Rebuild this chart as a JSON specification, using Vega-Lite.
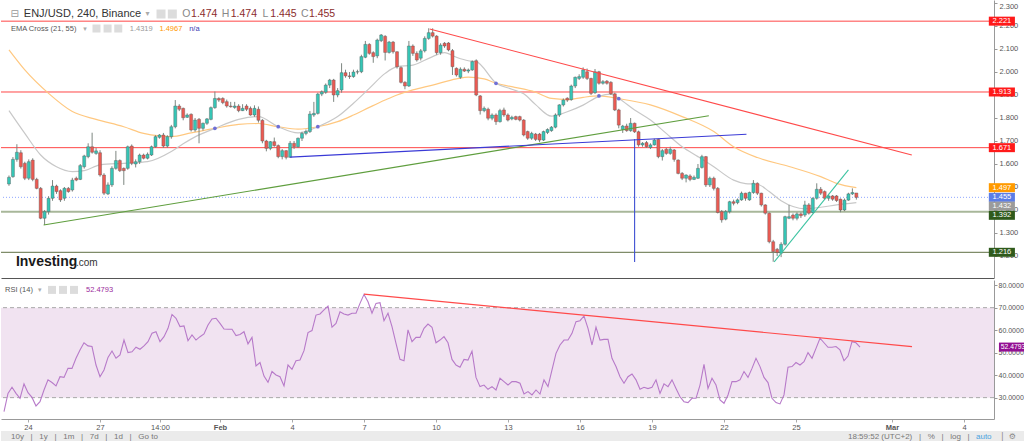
{
"$schema": "https://vega.github.io/schema/vega-lite/v6.json",
"padding": 0,
"background": "white",
"spacing": 2,
"bounds": "flush",
"config": {"view": {"stroke": null}, "font": "Liberation Sans", "axis": {"labelOverlap": false, "labelSeparation": 0, "labelBound": false}},
"datasets": {
"candles": [
{"i":0,"o":1.513,"h":1.55,"l":1.505,"c":1.542},{"i":1,"o":1.545,"h":1.63,"l":1.54,"c":1.62},{"i":2,"o":1.62,"h":1.686,"l":1.61,"c":1.651},{"i":3,"o":1.649,"h":1.66,"l":1.58,"c":1.588},{"i":4,"o":1.603,"h":1.61,"l":1.53,"c":1.538},{"i":5,"o":1.538,"h":1.62,"l":1.53,"c":1.61},{"i":6,"o":1.617,"h":1.625,"l":1.525,"c":1.533},{"i":7,"o":1.533,"h":1.54,"l":1.49,"c":1.494},{"i":8,"o":1.494,"h":1.5,"l":1.36,"c":1.364},{"i":9,"o":1.364,"h":1.4,"l":1.335,"c":1.393},
{"i":10,"o":1.393,"h":1.46,"l":1.38,"c":1.451},{"i":11,"o":1.451,"h":1.53,"l":1.44,"c":1.504},{"i":12,"o":1.504,"h":1.51,"l":1.47,"c":1.48},{"i":13,"o":1.484,"h":1.49,"l":1.435,"c":1.444},{"i":14,"o":1.451,"h":1.5,"l":1.44,"c":1.494},{"i":15,"o":1.494,"h":1.5,"l":1.475,"c":1.48},{"i":16,"o":1.487,"h":1.54,"l":1.48,"c":1.53},{"i":17,"o":1.538,"h":1.545,"l":1.525,"c":1.53},{"i":18,"o":1.533,"h":1.6,"l":1.53,"c":1.593},{"i":19,"o":1.588,"h":1.64,"l":1.58,"c":1.635},
{"i":20,"o":1.632,"h":1.69,"l":1.625,"c":1.675},{"i":21,"o":1.675,"h":1.736,"l":1.645,"c":1.651},{"i":22,"o":1.646,"h":1.67,"l":1.64,"c":1.657},{"i":23,"o":1.649,"h":1.66,"l":1.545,"c":1.552},{"i":24,"o":1.552,"h":1.56,"l":1.465,"c":1.473},{"i":25,"o":1.47,"h":1.52,"l":1.465,"c":1.509},{"i":26,"o":1.509,"h":1.59,"l":1.5,"c":1.581},{"i":27,"o":1.581,"h":1.657,"l":1.575,"c":1.615},{"i":28,"o":1.615,"h":1.62,"l":1.565,"c":1.571},{"i":29,"o":1.581,"h":1.585,"l":1.509,"c":1.571},
{"i":30,"o":1.581,"h":1.68,"l":1.575,"c":1.675},{"i":31,"o":1.678,"h":1.685,"l":1.595,"c":1.603},{"i":32,"o":1.6,"h":1.62,"l":1.585,"c":1.61},{"i":33,"o":1.61,"h":1.645,"l":1.6,"c":1.639},{"i":34,"o":1.639,"h":1.645,"l":1.62,"c":1.625},{"i":35,"o":1.625,"h":1.65,"l":1.62,"c":1.642},{"i":36,"o":1.639,"h":1.68,"l":1.635,"c":1.675},{"i":37,"o":1.675,"h":1.725,"l":1.67,"c":1.719},{"i":38,"o":1.716,"h":1.73,"l":1.71,"c":1.726},{"i":39,"o":1.726,"h":1.735,"l":1.67,"c":1.678},
{"i":40,"o":1.678,"h":1.725,"l":1.67,"c":1.719},{"i":41,"o":1.719,"h":1.77,"l":1.71,"c":1.762},{"i":42,"o":1.762,"h":1.878,"l":1.755,"c":1.852},{"i":43,"o":1.852,"h":1.86,"l":1.83,"c":1.838},{"i":44,"o":1.842,"h":1.845,"l":1.79,"c":1.801},{"i":45,"o":1.803,"h":1.82,"l":1.8,"c":1.813},{"i":46,"o":1.816,"h":1.82,"l":1.741,"c":1.748},{"i":47,"o":1.748,"h":1.8,"l":1.74,"c":1.791},{"i":48,"o":1.794,"h":1.8,"l":1.69,"c":1.755},{"i":49,"o":1.755,"h":1.78,"l":1.745,"c":1.777},
{"i":50,"o":1.777,"h":1.8,"l":1.77,"c":1.796},{"i":51,"o":1.794,"h":1.85,"l":1.79,"c":1.845},{"i":52,"o":1.845,"h":1.915,"l":1.84,"c":1.885},{"i":53,"o":1.885,"h":1.89,"l":1.87,"c":1.878},{"i":54,"o":1.885,"h":1.89,"l":1.86,"c":1.867},{"i":55,"o":1.871,"h":1.88,"l":1.845,"c":1.852},{"i":56,"o":1.852,"h":1.87,"l":1.845,"c":1.849},{"i":57,"o":1.846,"h":1.87,"l":1.84,"c":1.852},{"i":58,"o":1.852,"h":1.86,"l":1.825,"c":1.832},{"i":59,"o":1.832,"h":1.86,"l":1.83,"c":1.842},
{"i":60,"o":1.852,"h":1.86,"l":1.83,"c":1.838},{"i":61,"o":1.842,"h":1.85,"l":1.81,"c":1.813},{"i":62,"o":1.813,"h":1.855,"l":1.805,"c":1.842},{"i":63,"o":1.838,"h":1.85,"l":1.78,"c":1.79},{"i":64,"o":1.79,"h":1.795,"l":1.69,"c":1.7},{"i":65,"o":1.7,"h":1.705,"l":1.655,"c":1.668},{"i":66,"o":1.668,"h":1.7,"l":1.66,"c":1.697},{"i":67,"o":1.697,"h":1.715,"l":1.675,"c":1.68},{"i":68,"o":1.68,"h":1.685,"l":1.625,"c":1.632},{"i":69,"o":1.632,"h":1.665,"l":1.62,"c":1.658},
{"i":70,"o":1.658,"h":1.66,"l":1.62,"c":1.629},{"i":71,"o":1.629,"h":1.7,"l":1.628,"c":1.69},{"i":72,"o":1.69,"h":1.7,"l":1.665,"c":1.675},{"i":73,"o":1.675,"h":1.715,"l":1.67,"c":1.712},{"i":74,"o":1.712,"h":1.74,"l":1.7,"c":1.733},{"i":75,"o":1.733,"h":1.75,"l":1.725,"c":1.741},{"i":76,"o":1.741,"h":1.83,"l":1.735,"c":1.817},{"i":77,"o":1.813,"h":1.87,"l":1.805,"c":1.82},{"i":78,"o":1.82,"h":1.91,"l":1.815,"c":1.904},{"i":79,"o":1.904,"h":1.92,"l":1.895,"c":1.914},
{"i":80,"o":1.912,"h":1.95,"l":1.905,"c":1.943},{"i":81,"o":1.943,"h":1.97,"l":1.93,"c":1.965},{"i":82,"o":1.965,"h":1.97,"l":1.87,"c":1.9},{"i":83,"o":1.9,"h":1.93,"l":1.89,"c":1.919},{"i":84,"o":1.922,"h":2.038,"l":1.91,"c":1.997},{"i":85,"o":1.997,"h":2.01,"l":1.975,"c":1.983},{"i":86,"o":1.983,"h":2.0,"l":1.97,"c":1.98},{"i":87,"o":1.98,"h":2.01,"l":1.975,"c":2.0},{"i":88,"o":2.0,"h":2.01,"l":1.99,"c":2.001},{"i":89,"o":2.001,"h":2.075,"l":1.995,"c":2.067},
{"i":90,"o":2.064,"h":2.135,"l":2.06,"c":2.12},{"i":91,"o":2.12,"h":2.125,"l":2.075,"c":2.081},{"i":92,"o":2.084,"h":2.09,"l":2.04,"c":2.067},{"i":93,"o":2.07,"h":2.145,"l":2.06,"c":2.139},{"i":94,"o":2.136,"h":2.165,"l":2.13,"c":2.161},{"i":95,"o":2.155,"h":2.16,"l":2.05,"c":2.085},{"i":96,"o":2.085,"h":2.135,"l":2.08,"c":2.13},{"i":97,"o":2.13,"h":2.135,"l":2.08,"c":2.088},{"i":98,"o":2.088,"h":2.09,"l":2.015,"c":2.023},{"i":99,"o":2.019,"h":2.025,"l":1.95,"c":1.955},
{"i":100,"o":1.955,"h":1.96,"l":1.925,"c":1.939},{"i":101,"o":1.939,"h":2.135,"l":1.935,"c":2.113},{"i":102,"o":2.113,"h":2.12,"l":2.07,"c":2.081},{"i":103,"o":2.081,"h":2.09,"l":2.045,"c":2.052},{"i":104,"o":2.06,"h":2.1,"l":2.05,"c":2.092},{"i":105,"o":2.092,"h":2.155,"l":2.085,"c":2.146},{"i":106,"o":2.146,"h":2.19,"l":2.14,"c":2.171},{"i":107,"o":2.171,"h":2.19,"l":2.15,"c":2.156},{"i":108,"o":2.156,"h":2.16,"l":2.075,"c":2.084},{"i":109,"o":2.084,"h":2.125,"l":2.075,"c":2.117},
{"i":110,"o":2.125,"h":2.13,"l":2.105,"c":2.113},{"i":111,"o":2.126,"h":2.13,"l":2.09,"c":2.096},{"i":112,"o":2.093,"h":2.1,"l":1.987,"c":2.023},{"i":113,"o":2.016,"h":2.02,"l":1.98,"c":1.987},{"i":114,"o":1.977,"h":2.02,"l":1.97,"c":2.012},{"i":115,"o":2.012,"h":2.02,"l":2.0,"c":2.004},{"i":116,"o":2.004,"h":2.015,"l":1.995,"c":2.009},{"i":117,"o":2.009,"h":2.05,"l":2.005,"c":2.045},{"i":118,"o":2.049,"h":2.055,"l":1.895,"c":1.9},{"i":119,"o":1.896,"h":1.9,"l":1.815,"c":1.832},
{"i":120,"o":1.832,"h":1.85,"l":1.825,"c":1.842},{"i":121,"o":1.838,"h":1.845,"l":1.79,"c":1.799},{"i":122,"o":1.799,"h":1.82,"l":1.79,"c":1.813},{"i":123,"o":1.813,"h":1.82,"l":1.77,"c":1.784},{"i":124,"o":1.784,"h":1.84,"l":1.78,"c":1.832},{"i":125,"o":1.835,"h":1.845,"l":1.805,"c":1.813},{"i":126,"o":1.813,"h":1.82,"l":1.785,"c":1.791},{"i":127,"o":1.796,"h":1.81,"l":1.79,"c":1.803},{"i":128,"o":1.806,"h":1.81,"l":1.79,"c":1.794},{"i":129,"o":1.806,"h":1.81,"l":1.785,"c":1.791},
{"i":130,"o":1.791,"h":1.795,"l":1.72,"c":1.726},{"i":131,"o":1.741,"h":1.745,"l":1.705,"c":1.712},{"i":132,"o":1.712,"h":1.74,"l":1.705,"c":1.733},{"i":133,"o":1.73,"h":1.735,"l":1.7,"c":1.707},{"i":134,"o":1.73,"h":1.735,"l":1.695,"c":1.704},{"i":135,"o":1.704,"h":1.745,"l":1.7,"c":1.741},{"i":136,"o":1.737,"h":1.755,"l":1.73,"c":1.75},{"i":137,"o":1.745,"h":1.765,"l":1.74,"c":1.76},{"i":138,"o":1.76,"h":1.82,"l":1.755,"c":1.813},{"i":139,"o":1.813,"h":1.86,"l":1.805,"c":1.857},
{"i":140,"o":1.857,"h":1.885,"l":1.85,"c":1.878},{"i":141,"o":1.886,"h":1.89,"l":1.87,"c":1.878},{"i":142,"o":1.88,"h":1.945,"l":1.875,"c":1.939},{"i":143,"o":1.939,"h":1.98,"l":1.93,"c":1.977},{"i":144,"o":1.972,"h":1.99,"l":1.965,"c":1.98},{"i":145,"o":1.977,"h":2.02,"l":1.97,"c":2.009},{"i":146,"o":2.001,"h":2.015,"l":1.965,"c":1.972},{"i":147,"o":1.972,"h":1.975,"l":1.9,"c":1.907},{"i":148,"o":1.91,"h":2.013,"l":1.905,"c":2.001},{"i":149,"o":2.001,"h":2.005,"l":1.945,"c":1.951},
{"i":150,"o":1.951,"h":1.965,"l":1.945,"c":1.958},{"i":151,"o":1.96,"h":1.965,"l":1.945,"c":1.951},{"i":152,"o":1.955,"h":1.96,"l":1.9,"c":1.905},{"i":153,"o":1.905,"h":1.91,"l":1.83,"c":1.835},{"i":154,"o":1.835,"h":1.84,"l":1.755,"c":1.769},{"i":155,"o":1.75,"h":1.77,"l":1.735,"c":1.765},{"i":156,"o":1.765,"h":1.775,"l":1.74,"c":1.745},{"i":157,"o":1.745,"h":1.8,"l":1.74,"c":1.777},{"i":158,"o":1.777,"h":1.78,"l":1.735,"c":1.74},{"i":159,"o":1.74,"h":1.745,"l":1.675,"c":1.683},
{"i":160,"o":1.683,"h":1.695,"l":1.675,"c":1.69},{"i":161,"o":1.693,"h":1.7,"l":1.67,"c":1.675},{"i":162,"o":1.672,"h":1.69,"l":1.665,"c":1.683},{"i":163,"o":1.683,"h":1.71,"l":1.68,"c":1.704},{"i":164,"o":1.707,"h":1.71,"l":1.625,"c":1.632},{"i":165,"o":1.632,"h":1.665,"l":1.615,"c":1.658},{"i":166,"o":1.664,"h":1.67,"l":1.64,"c":1.646},{"i":167,"o":1.646,"h":1.675,"l":1.64,"c":1.664},{"i":168,"o":1.661,"h":1.665,"l":1.61,"c":1.62},{"i":169,"o":1.617,"h":1.62,"l":1.555,"c":1.559},
{"i":170,"o":1.559,"h":1.565,"l":1.53,"c":1.538},{"i":171,"o":1.538,"h":1.555,"l":1.52,"c":1.552},{"i":172,"o":1.548,"h":1.555,"l":1.525,"c":1.533},{"i":173,"o":1.533,"h":1.55,"l":1.53,"c":1.542},{"i":174,"o":1.538,"h":1.6,"l":1.535,"c":1.581},{"i":175,"o":1.585,"h":1.64,"l":1.58,"c":1.632},{"i":176,"o":1.632,"h":1.635,"l":1.5,"c":1.509},{"i":177,"o":1.509,"h":1.545,"l":1.5,"c":1.538},{"i":178,"o":1.538,"h":1.545,"l":1.485,"c":1.494},{"i":179,"o":1.494,"h":1.5,"l":1.385,"c":1.389},
{"i":180,"o":1.393,"h":1.4,"l":1.345,"c":1.357},{"i":181,"o":1.36,"h":1.4,"l":1.355,"c":1.393},{"i":182,"o":1.393,"h":1.44,"l":1.385,"c":1.436},{"i":183,"o":1.436,"h":1.445,"l":1.42,"c":1.429},{"i":184,"o":1.432,"h":1.45,"l":1.425,"c":1.444},{"i":185,"o":1.444,"h":1.48,"l":1.44,"c":1.473},{"i":186,"o":1.473,"h":1.475,"l":1.44,"c":1.451},{"i":187,"o":1.444,"h":1.48,"l":1.44,"c":1.476},{"i":188,"o":1.476,"h":1.53,"l":1.47,"c":1.516},{"i":189,"o":1.516,"h":1.52,"l":1.465,"c":1.473},
{"i":190,"o":1.473,"h":1.475,"l":1.415,"c":1.422},{"i":191,"o":1.422,"h":1.425,"l":1.38,"c":1.386},{"i":192,"o":1.386,"h":1.39,"l":1.255,"c":1.262},{"i":193,"o":1.262,"h":1.27,"l":1.175,"c":1.219},{"i":194,"o":1.229,"h":1.235,"l":1.2,"c":1.215},{"i":195,"o":1.212,"h":1.26,"l":1.195,"c":1.251},{"i":196,"o":1.251,"h":1.375,"l":1.245,"c":1.371},{"i":197,"o":1.364,"h":1.422,"l":1.36,"c":1.371},{"i":198,"o":1.378,"h":1.385,"l":1.355,"c":1.364},{"i":199,"o":1.364,"h":1.39,"l":1.355,"c":1.383},
{"i":200,"o":1.383,"h":1.39,"l":1.365,"c":1.375},{"i":201,"o":1.378,"h":1.44,"l":1.37,"c":1.422},{"i":202,"o":1.422,"h":1.43,"l":1.38,"c":1.386},{"i":203,"o":1.389,"h":1.455,"l":1.385,"c":1.451},{"i":204,"o":1.451,"h":1.516,"l":1.445,"c":1.49},{"i":205,"o":1.49,"h":1.5,"l":1.465,"c":1.473},{"i":206,"o":1.48,"h":1.485,"l":1.445,"c":1.451},{"i":207,"o":1.451,"h":1.47,"l":1.44,"c":1.461},{"i":208,"o":1.461,"h":1.465,"l":1.44,"c":1.447},{"i":209,"o":1.461,"h":1.465,"l":1.435,"c":1.441},
{"i":210,"o":1.447,"h":1.45,"l":1.39,"c":1.4},{"i":211,"o":1.4,"h":1.45,"l":1.395,"c":1.443},{"i":212,"o":1.443,"h":1.475,"l":1.44,"c":1.47},{"i":213,"o":1.47,"h":1.494,"l":1.465,"c":1.476},{"i":214,"o":1.474,"h":1.474,"l":1.445,"c":1.455}
],
"ema21": [
{"i":0,"v":1.832},{"i":4,"v":1.733},{"i":8,"v":1.639},{"i":12,"v":1.588},{"i":16,"v":1.567},{"i":19,"v":1.571},{"i":23,"v":1.596},{"i":29,"v":1.603},{"i":35,"v":1.61},{"i":41,"v":1.654},{"i":44,"v":1.688},{"i":47,"v":1.718},{"i":52,"v":1.755},{"i":58,"v":1.794},{"i":63,"v":1.806},{"i":68,"v":1.762},{"i":73,"v":1.735},{"i":78,"v":1.762},{"i":83,"v":1.806},{"i":87,"v":1.864},{"i":91,"v":1.929},{"i":95,"v":1.994},{"i":98,"v":2.023},{"i":102,"v":2.03},{"i":107,"v":2.067},{"i":110,"v":2.084},{"i":113,"v":2.064},{"i":116,"v":2.049},{"i":118,"v":2.045},{"i":123,"v":1.952},{"i":127,"v":1.925},{"i":130,"v":1.905},{"i":133,"v":1.858},{"i":137,"v":1.808},{"i":141,"v":1.827},{"i":145,"v":1.856},{"i":149,"v":1.894},{"i":152,"v":1.904},{"i":154,"v":1.885},{"i":158,"v":1.835},{"i":162,"v":1.791},{"i":166,"v":1.733},{"i":170,"v":1.675},{"i":174,"v":1.632},{"i":178,"v":1.588},{"i":183,"v":1.53},{"i":186,"v":1.515},{"i":189,"v":1.512},{"i":192,"v":1.48},{"i":195,"v":1.44},{"i":198,"v":1.415},{"i":201,"v":1.405},{"i":205,"v":1.412},{"i":209,"v":1.422},{"i":214,"v":1.432}
],
"ema55": [
{"i":0,"v":2.096},{"i":4,"v":2.009},{"i":10,"v":1.907},{"i":16,"v":1.828},{"i":22,"v":1.794},{"i":29,"v":1.762},{"i":34,"v":1.733},{"i":38,"v":1.722},{"i":41,"v":1.719},{"i":46,"v":1.735},{"i":52,"v":1.755},{"i":58,"v":1.772},{"i":63,"v":1.776},{"i":68,"v":1.762},{"i":73,"v":1.752},{"i":78,"v":1.762},{"i":83,"v":1.784},{"i":87,"v":1.813},{"i":91,"v":1.846},{"i":95,"v":1.878},{"i":98,"v":1.9},{"i":102,"v":1.922},{"i":107,"v":1.943},{"i":113,"v":1.97},{"i":116,"v":1.978},{"i":120,"v":1.97},{"i":123,"v":1.951},{"i":127,"v":1.936},{"i":133,"v":1.912},{"i":137,"v":1.885},{"i":141,"v":1.88},{"i":145,"v":1.89},{"i":149,"v":1.896},{"i":154,"v":1.884},{"i":162,"v":1.857},{"i":170,"v":1.806},{"i":178,"v":1.741},{"i":183,"v":1.675},{"i":189,"v":1.628},{"i":197,"v":1.589},{"i":205,"v":1.545},{"i":209,"v":1.516},{"i":214,"v":1.497}
],
"cross": [{"i":52,"v":1.755},{"i":68,"v":1.762},{"i":78,"v":1.762},{"i":123,"v":1.951},{"i":149,"v":1.896},{"i":154,"v":1.884}],
"trend": [
{"id":"r","i":106.25,"p":2.187},{"id":"r","i":228,"p":1.639},
{"id":"g","i":8.75,"p":1.335},{"id":"g","i":176.75,"p":1.81},
{"id":"b","i":71,"p":1.63},{"id":"b","i":186.25,"p":1.729},
{"id":"v","i":158,"p":1.709},{"id":"v","i":158,"p":1.174},
{"id":"t","i":193.25,"p":1.174},{"id":"t","i":212,"p":1.574}
],
"tags": [
{"p":2.221,"k":"res"},{"p":1.913,"k":"res"},{"p":1.671,"k":"res"},{"p":1.497,"k":"e55"},{"p":1.455,"k":"last"},{"p":1.216,"k":"sup"}
],
"tagsLow": [
{"p":1.432,"k":"e21"},{"p":1.392,"k":"sup"}
],
"rsi": [
{"i":0,"r":23.8},{"i":1,"r":31.9},{"i":2,"r":34.6},{"i":3,"r":31.9},{"i":4,"r":29.7},{"i":5,"r":36.1},{"i":6,"r":32.2},{"i":7,"r":30.1},{"i":8,"r":26.3},{"i":9,"r":28.2},
{"i":10,"r":33.4},{"i":11,"r":37.9},{"i":12,"r":36.7},{"i":13,"r":35.2},{"i":14,"r":39.3},{"i":15,"r":39.0},{"i":16,"r":43.0},{"i":17,"r":43.0},{"i":18,"r":47.5},{"i":19,"r":51.2},
{"i":20,"r":54.4},{"i":21,"r":53.0},{"i":22,"r":52.7},{"i":23,"r":44.5},{"i":24,"r":39.3},{"i":25,"r":42.3},{"i":26,"r":47.9},{"i":27,"r":50.7},{"i":28,"r":47.5},{"i":29,"r":49.0},
{"i":30,"r":55.6},{"i":31,"r":50.0},{"i":32,"r":50.4},{"i":33,"r":52.4},{"i":34,"r":51.5},{"i":35,"r":53.0},{"i":36,"r":54.9},{"i":37,"r":58.6},{"i":38,"r":59.3},{"i":39,"r":54.9},
{"i":40,"r":57.1},{"i":41,"r":60.8},{"i":42,"r":67.0},{"i":43,"r":65.3},{"i":44,"r":61.6},{"i":45,"r":61.9},{"i":46,"r":55.3},{"i":47,"r":57.9},{"i":48,"r":55.6},{"i":49,"r":57.1},
{"i":50,"r":58.3},{"i":51,"r":62.3},{"i":52,"r":65.0},{"i":53,"r":65.3},{"i":54,"r":63.0},{"i":55,"r":60.5},{"i":56,"r":60.4},{"i":57,"r":60.4},{"i":58,"r":57.6},{"i":59,"r":58.1},
{"i":60,"r":59.3},{"i":61,"r":53.9},{"i":62,"r":56.8},{"i":63,"r":44.1},{"i":64,"r":45.6},{"i":65,"r":39.6},{"i":66,"r":36.8},{"i":67,"r":41.6},{"i":68,"r":40.1},{"i":69,"r":39.3},
{"i":70,"r":35.2},{"i":71,"r":44.5},{"i":72,"r":42.6},{"i":73,"r":46.4},{"i":74,"r":46.7},{"i":75,"r":50.9},{"i":76,"r":58.9},{"i":77,"r":59.8},{"i":78,"r":66.7},{"i":79,"r":67.2},
{"i":80,"r":69.0},{"i":81,"r":70.7},{"i":82,"r":61.3},{"i":83,"r":63.0},{"i":84,"r":68.2},{"i":85,"r":67.2},{"i":86,"r":66.7},{"i":87,"r":67.5},{"i":88,"r":67.5},{"i":89,"r":71.9},
{"i":90,"r":75.9},{"i":91,"r":72.6},{"i":92,"r":67.5},{"i":93,"r":71.9},{"i":94,"r":72.2},{"i":95,"r":64.2},{"i":96,"r":67.5},{"i":97,"r":61.6},{"i":98,"r":54.1},{"i":99,"r":47.0},
{"i":100,"r":46.4},{"i":101,"r":60.1},{"i":102,"r":54.9},{"i":103,"r":56.8},{"i":104,"r":56.8},{"i":105,"r":60.8},{"i":106,"r":62.7},{"i":107,"r":61.3},{"i":108,"r":54.4},{"i":109,"r":55.6},
{"i":110,"r":57.1},{"i":111,"r":54.4},{"i":112,"r":47.0},{"i":113,"r":44.5},{"i":114,"r":43.5},{"i":115,"r":47.0},{"i":116,"r":46.7},{"i":117,"r":50.7},{"i":118,"r":39.0},{"i":119,"r":34.9},
{"i":120,"r":35.6},{"i":121,"r":33.7},{"i":122,"r":34.9},{"i":123,"r":33.4},{"i":124,"r":38.6},{"i":125,"r":37.1},{"i":126,"r":35.6},{"i":127,"r":37.1},{"i":128,"r":37.1},{"i":129,"r":36.4},
{"i":130,"r":31.6},{"i":131,"r":32.7},{"i":132,"r":31.2},{"i":133,"r":33.4},{"i":134,"r":31.6},{"i":135,"r":37.9},{"i":136,"r":34.9},{"i":137,"r":42.3},{"i":138,"r":49.7},{"i":139,"r":53.4},
{"i":140,"r":55.6},{"i":141,"r":55.6},{"i":142,"r":58.6},{"i":143,"r":63.8},{"i":144,"r":64.2},{"i":145,"r":66.3},{"i":146,"r":60.8},{"i":147,"r":53.4},{"i":148,"r":61.3},{"i":149,"r":55.6},
{"i":150,"r":55.9},{"i":151,"r":55.9},{"i":152,"r":47.5},{"i":153,"r":43.8},{"i":154,"r":39.3},{"i":155,"r":36.4},{"i":156,"r":39.3},{"i":157,"r":40.5},{"i":158,"r":37.9},{"i":159,"r":33.7},
{"i":160,"r":34.6},{"i":161,"r":34.0},{"i":162,"r":34.6},{"i":163,"r":37.9},{"i":164,"r":31.9},{"i":165,"r":36.1},{"i":166,"r":34.9},{"i":167,"r":37.9},{"i":168,"r":34.1},{"i":169,"r":30.4},
{"i":170,"r":28.2},{"i":171,"r":27.8},{"i":172,"r":29.7},{"i":173,"r":29.7},{"i":174,"r":35.6},{"i":175,"r":44.8},{"i":176,"r":34.1},{"i":177,"r":38.6},{"i":178,"r":35.6},{"i":179,"r":29.0},
{"i":180,"r":27.5},{"i":181,"r":31.2},{"i":182,"r":37.1},{"i":183,"r":37.1},{"i":184,"r":37.9},{"i":185,"r":41.6},{"i":186,"r":39.0},{"i":187,"r":43.0},{"i":188,"r":47.5},{"i":189,"r":43.8},
{"i":190,"r":39.0},{"i":191,"r":36.7},{"i":192,"r":29.7},{"i":193,"r":27.8},{"i":194,"r":27.2},{"i":195,"r":31.2},{"i":196,"r":43.5},{"i":197,"r":43.8},{"i":198,"r":45.6},{"i":199,"r":44.5},
{"i":200,"r":46.0},{"i":201,"r":50.0},{"i":202,"r":47.5},{"i":203,"r":51.9},{"i":204,"r":56.4},{"i":205,"r":54.4},{"i":206,"r":52.4},{"i":207,"r":52.4},{"i":208,"r":52.7},{"i":209,"r":51.2},
{"i":210,"r":46.4},{"i":211,"r":48.5},{"i":212,"r":54.9},{"i":213,"r":54.4},{"i":214,"r":52.48}
],
"rsiTrend": [{"i":90,"r":76.0},{"i":227,"r":52.7}]
},
"vconcat": [
{
"width": 993, "height": 278,
"layer": [
{"data": {"values": [{"p":2.221},{"p":1.913},{"p":1.671}]}, "mark": {"type":"rule","color":"#ff4646","strokeWidth":1},
 "encoding": {"y": {"field":"p","type":"quantitative","scale":{"domain":[1.1043,2.313],"nice":false,"zero":false},
  "axis":{"orient":"right","values":[1.2,1.3,1.4,1.5,1.6,1.7,1.8,1.9,2.0,2.1,2.2,2.3],"tickCount":30,"format":".3f","title":null,"grid":false,"labelOverlap":false,"labelFontSize":7.5,"labelColor":"#555","tickSize":3,"tickColor":"#999","domainColor":"#999","labelPadding":2,"labelFlush":4}}}},
{"data": {"values": [{}]}, "mark": {"type":"rule","color":"#8fa6ff","strokeDash":[1,2],"strokeWidth":1}, "encoding": {"y": {"datum":1.455}}},
{"data": {"values": [{}]}, "mark": {"type":"rule","color":"#a8b79a","strokeWidth":2}, "encoding": {"y": {"datum":1.392}}},
{"data": {"values": [{}]}, "mark": {"type":"rule","color":"#5f7044","strokeWidth":1}, "encoding": {"y": {"datum":1.216}}},
{"data": {"name":"ema55"}, "mark": {"type":"line","color":"#ffc880","strokeWidth":1.2,"interpolate":"monotone"},
 "encoding": {"x": {"field":"i","type":"quantitative"}, "y": {"field":"v","type":"quantitative"}}},
{"data": {"name":"ema21"}, "mark": {"type":"line","color":"#c8c8c8","strokeWidth":1.2,"interpolate":"monotone"},
 "encoding": {"x": {"field":"i","type":"quantitative"}, "y": {"field":"v","type":"quantitative"}}},
{"data": {"name":"candles"}, "mark": {"type":"rule","color":"#7d8680","strokeWidth":1},
 "encoding": {"x": {"field":"i","type":"quantitative","scale":{"domain":[-0.75,247.5],"nice":false,"zero":false},
   "axis":{"orient":"bottom","labels":false,"ticks":false,"domain":true,"domainColor":"#555","title":null,"grid":false}},
  "y": {"field":"l","type":"quantitative"}, "y2": {"field":"h"}}},
{"data": {"name":"candles"}, "mark": {"type":"bar","size":3,"stroke":"#555","strokeWidth":0.4},
 "encoding": {"x": {"field":"i","type":"quantitative"}, "y": {"field":"o","type":"quantitative"}, "y2": {"field":"c"},
  "fill": {"condition": {"test":"datum.c >= datum.o","value":"#35c6b6"},"value":"#ec5a52"}}},
{"data": {"name":"cross"}, "mark": {"type":"point","shape":"circle","filled":true,"size":14,"color":"#6f6fd6","opacity":1},
 "encoding": {"x": {"field":"i","type":"quantitative"}, "y": {"field":"v","type":"quantitative"}}},
{"data": {"name":"trend"}, "mark": {"type":"line","strokeWidth":1.1},
 "encoding": {"x": {"field":"i","type":"quantitative"}, "y": {"field":"p","type":"quantitative"},
  "color": {"field":"id","type":"nominal","scale":{"domain":["r","g","b","v","t"],"range":["#ff4a4a","#5f9e3e","#3a3ad6","#3e4fd2","#3dc4a2"]},"legend":null}}},
{"data": {"name":"tags"}, "mark": {"type":"point","shape":"M-1.45,-0.5L1.45,-0.5L1.45,0.5L-1.45,0.5Z","size":324,"filled":true,"opacity":1,"strokeWidth":0},
 "encoding": {"x": {"datum":250.75}, "y": {"field":"p","type":"quantitative"},
  "fill": {"field":"k","type":"nominal","scale":{"domain":["res","e55","last","e21","sup"],"range":["#ff1a1a","#ff9a00","#5b7de6","#9b9b9b","#2f5a1c"]},"legend":null}}},
{"data": {"name":"tags"}, "mark": {"type":"text","color":"white","fontSize":7.5,"align":"center","baseline":"middle"},
 "encoding": {"x": {"datum":250.75}, "y": {"field":"p","type":"quantitative"}, "text": {"field":"p","type":"quantitative","format":".3f"}}},
{"data": {"name":"tagsLow"}, "mark": {"type":"point","shape":"M-1.45,-0.5L1.45,-0.5L1.45,0.5L-1.45,0.5Z","size":324,"filled":true,"opacity":1,"strokeWidth":0,"yOffset":3.5},
 "encoding": {"x": {"datum":250.75}, "y": {"field":"p","type":"quantitative"},
  "fill": {"field":"k","type":"nominal","scale":{"domain":["res","e55","last","e21","sup"],"range":["#ff1a1a","#ff9a00","#5b7de6","#9b9b9b","#2f5a1c"]},"legend":null}}},
{"data": {"name":"tagsLow"}, "mark": {"type":"text","color":"white","fontSize":7.5,"align":"center","baseline":"middle","yOffset":3.5},
 "encoding": {"x": {"datum":250.75}, "y": {"field":"p","type":"quantitative"}, "text": {"field":"p","type":"quantitative","format":".3f"}}},
{"data": {"values": [{}]}, "mark": {"type":"text","text":"⊟","font":"DejaVu Sans","fontSize":10,"color":"#999","align":"left","baseline":"middle"}, "encoding": {"x": {"datum":0.4}, "y": {"datum":2.2521}}},
{"data": {"values": [{}]}, "mark": {"type":"text","text":"ENJ/USD, 240, Binance","fontSize":11,"color":"#333","align":"left","baseline":"middle"}, "encoding": {"x": {"datum":3.75}, "y": {"datum":2.2521}}},
{"data": {"values": [{}]}, "mark": {"type":"text","text":"▾","font":"DejaVu Sans","fontSize":8,"color":"#aaa","align":"left","baseline":"middle"}, "encoding": {"x": {"datum":34.5}, "y": {"datum":2.2521}}},
{"data": {"values": [{}]}, "mark": {"type":"point","shape":"square","filled":true,"size":81,"color":"#dcdcdc","opacity":1}, "encoding": {"x": {"datum":38.4}, "y": {"datum":2.2521}}},
{"data": {"values": [{}]}, "mark": {"type":"point","shape":"square","filled":true,"size":81,"color":"#dcdcdc","opacity":1}, "encoding": {"x": {"datum":41.25}, "y": {"datum":2.2521}}},
{"data": {"values": [{}]}, "mark": {"type":"text","text":"O","fontSize":10.5,"color":"#888","align":"left","baseline":"middle"}, "encoding": {"x": {"datum":43.75}, "y": {"datum":2.2521}}},
{"data": {"values": [{}]}, "mark": {"type":"text","text":"1.474","fontSize":10.5,"color":"#8b2c2c","align":"left","baseline":"middle"}, "encoding": {"x": {"datum":46}, "y": {"datum":2.2521}}},
{"data": {"values": [{}]}, "mark": {"type":"text","text":"H","fontSize":10.5,"color":"#888","align":"left","baseline":"middle"}, "encoding": {"x": {"datum":53.75}, "y": {"datum":2.2521}}},
{"data": {"values": [{}]}, "mark": {"type":"text","text":"1.474","fontSize":10.5,"color":"#8b2c2c","align":"left","baseline":"middle"}, "encoding": {"x": {"datum":56}, "y": {"datum":2.2521}}},
{"data": {"values": [{}]}, "mark": {"type":"text","text":"L","fontSize":10.5,"color":"#888","align":"left","baseline":"middle"}, "encoding": {"x": {"datum":64}, "y": {"datum":2.2521}}},
{"data": {"values": [{}]}, "mark": {"type":"text","text":"1.445","fontSize":10.5,"color":"#8b2c2c","align":"left","baseline":"middle"}, "encoding": {"x": {"datum":66}, "y": {"datum":2.2521}}},
{"data": {"values": [{}]}, "mark": {"type":"text","text":"C","fontSize":10.5,"color":"#888","align":"left","baseline":"middle"}, "encoding": {"x": {"datum":73.75}, "y": {"datum":2.2521}}},
{"data": {"values": [{}]}, "mark": {"type":"text","text":"1.455","fontSize":10.5,"color":"#8b2c2c","align":"left","baseline":"middle"}, "encoding": {"x": {"datum":75.75}, "y": {"datum":2.2521}}},
{"data": {"values": [{}]}, "mark": {"type":"text","text":"EMA Cross (21, 55)","fontSize":7.5,"color":"#555","align":"left","baseline":"middle"}, "encoding": {"x": {"datum":0.5}, "y": {"datum":2.189}}},
{"data": {"values": [{}]}, "mark": {"type":"text","text":"▾","font":"DejaVu Sans","fontSize":7,"color":"#aaa","align":"left","baseline":"middle"}, "encoding": {"x": {"datum":18.75}, "y": {"datum":2.189}}},
{"data": {"values": [{}]}, "mark": {"type":"point","shape":"square","filled":true,"size":64,"color":"#dcdcdc","opacity":1}, "encoding": {"x": {"datum":22.1}, "y": {"datum":2.189}}},
{"data": {"values": [{}]}, "mark": {"type":"point","shape":"square","filled":true,"size":64,"color":"#dcdcdc","opacity":1}, "encoding": {"x": {"datum":24.9}, "y": {"datum":2.189}}},
{"data": {"values": [{}]}, "mark": {"type":"point","shape":"square","filled":true,"size":64,"color":"#dcdcdc","opacity":1}, "encoding": {"x": {"datum":27.6}, "y": {"datum":2.189}}},
{"data": {"values": [{}]}, "mark": {"type":"text","text":"1.4319","fontSize":7.5,"color":"#999","align":"left","baseline":"middle"}, "encoding": {"x": {"datum":30.5}, "y": {"datum":2.189}}},
{"data": {"values": [{}]}, "mark": {"type":"text","text":"1.4967","fontSize":7.5,"color":"#ff9800","align":"left","baseline":"middle"}, "encoding": {"x": {"datum":38}, "y": {"datum":2.189}}},
{"data": {"values": [{}]}, "mark": {"type":"text","text":"n/a","fontSize":7.5,"color":"#3b3bb3","align":"left","baseline":"middle"}, "encoding": {"x": {"datum":45.5}, "y": {"datum":2.189}}},
{"data": {"values": [{}]}, "mark": {"type":"text","text":"Investing","fontSize":14,"fontWeight":"bold","color":"#1a1a1a","align":"left","baseline":"alphabetic"}, "encoding": {"x": {"datum":1.75}, "y": {"datum":1.1565}}},
{"data": {"values": [{}]}, "mark": {"type":"text","text":".com","fontSize":10,"color":"#333","align":"left","baseline":"alphabetic"}, "encoding": {"x": {"datum":16.9}, "y": {"datum":1.1565}}}
]
},
{
"spacing": 12,
"bounds": "flush",
"vconcat": [
{
"width": 993, "height": 139,
"layer": [
{"data": {"values": [{}]}, "mark": {"type":"rect","color":"#f1e3f1"},
 "encoding": {"y": {"datum":30,"type":"quantitative","scale":{"domain":[20.5,82.3],"nice":false,"zero":false},
   "axis":{"orient":"right","values":[30,40,50,60,70,80],"tickCount":20,"format":".4f","title":null,"grid":false,"labelOverlap":false,"labelFontSize":7,"labelColor":"#555","tickSize":3,"tickColor":"#999","domainColor":"#999","labelPadding":1}},
  "y2": {"datum":70}}},
{"data": {"values": [{"r":70},{"r":30}]}, "mark": {"type":"rule","color":"#a8a8a8","strokeDash":[4,3],"strokeWidth":1},
 "encoding": {"y": {"field":"r","type":"quantitative"}}},
{"data": {"name":"rsi"}, "mark": {"type":"line","color":"#b77ac9","strokeWidth":1.1},
 "encoding": {"x": {"field":"i","type":"quantitative","scale":{"domain":[-0.75,247.5],"nice":false,"zero":false},
   "axis":{"orient":"bottom","values":[6,24,39,54,72,90,108,126,144,162,180,198,222,240],"tickCount":30,
    "labelExpr":"datum.value==6?'24':datum.value==24?'27':datum.value==39?'14:00':datum.value==54?'Feb':datum.value==72?'4':datum.value==90?'7':datum.value==108?'10':datum.value==126?'13':datum.value==144?'16':datum.value==162?'19':datum.value==180?'22':datum.value==198?'25':datum.value==222?'Mar':'4'",
    "title":null,"grid":false,"labelOverlap":false,"labelFontSize":7.5,"labelColor":"#555",
    "labelFontWeight":{"condition":{"test":"datum.value==54 || datum.value==222","value":"bold"},"value":"normal"},
    "tickSize":3,"tickColor":"#aaa","domainColor":"#999","labelPadding":1}},
  "y": {"field":"r","type":"quantitative"}}},
{"data": {"name":"rsiTrend"}, "mark": {"type":"line","color":"#ff4a4a","strokeWidth":1.2},
 "encoding": {"x": {"field":"i","type":"quantitative"}, "y": {"field":"r","type":"quantitative"}}},
{"data": {"values": [{}]}, "mark": {"type":"point","shape":"M-1.45,-0.5L1.45,-0.5L1.45,0.5L-1.45,0.5Z","size":324,"filled":true,"color":"#930f93","opacity":1,"strokeWidth":0},
 "encoding": {"x": {"datum":252}, "y": {"datum":52.48}}},
{"data": {"values": [{}]}, "mark": {"type":"text","text":"52.4793","fontSize":6.8,"color":"white","align":"left","baseline":"middle"},
 "encoding": {"x": {"datum":249.2}, "y": {"datum":52.48}}},
{"data": {"values": [{}]}, "mark": {"type":"text","text":"RSI (14)","fontSize":7.5,"color":"#555","align":"left","baseline":"middle"}, "encoding": {"x": {"datum":0.25}, "y": {"datum":77.9}}},
{"data": {"values": [{}]}, "mark": {"type":"text","text":"▾","font":"DejaVu Sans","fontSize":7,"color":"#aaa","align":"left","baseline":"middle"}, "encoding": {"x": {"datum":8.5}, "y": {"datum":77.9}}},
{"data": {"values": [{}]}, "mark": {"type":"point","shape":"square","filled":true,"size":64,"color":"#dcdcdc","opacity":1}, "encoding": {"x": {"datum":12}, "y": {"datum":77.9}}},
{"data": {"values": [{}]}, "mark": {"type":"point","shape":"square","filled":true,"size":64,"color":"#dcdcdc","opacity":1}, "encoding": {"x": {"datum":14.75}, "y": {"datum":77.9}}},
{"data": {"values": [{}]}, "mark": {"type":"point","shape":"square","filled":true,"size":64,"color":"#dcdcdc","opacity":1}, "encoding": {"x": {"datum":17.5}, "y": {"datum":77.9}}},
{"data": {"values": [{}]}, "mark": {"type":"text","text":"52.4793","fontSize":7.5,"color":"#9b2c9b","align":"left","baseline":"middle"}, "encoding": {"x": {"datum":20.5}, "y": {"datum":77.9}}}
]
},
{
"width": 1024, "height": 10,
"view": {"fill": "#ebebeb", "stroke": null},
"layer": [
{"data": {"values": [{}]}, "mark": {"type":"text","text":"10y\u00a0\u00a0\u00a0|\u00a0\u00a0\u00a01y\u00a0\u00a0\u00a0|\u00a0\u00a0\u00a01m\u00a0\u00a0\u00a0|\u00a0\u00a0\u00a07d\u00a0\u00a0\u00a0|\u00a0\u00a0\u00a01d\u00a0\u00a0\u00a0|\u00a0\u00a0\u00a0Go to","fontSize":8,"color":"#777","align":"left","baseline":"bottom"},
 "encoding": {"x": {"datum":1.75,"type":"quantitative","scale":{"domain":[-0.75,255.25],"nice":false,"zero":false},"axis":null},
  "y": {"datum":0,"type":"quantitative","scale":{"domain":[0,1],"nice":false,"zero":false},"axis":null}}},
{"data": {"values": [{}]}, "mark": {"type":"text","text":"18:59:52 (UTC+2)\u00a0\u00a0\u00a0|\u00a0\u00a0\u00a0%\u00a0\u00a0\u00a0|\u00a0\u00a0\u00a0log\u00a0\u00a0\u00a0|","fontSize":8,"color":"#777","align":"left","baseline":"bottom"},
 "encoding": {"x": {"datum":211}, "y": {"datum":0}}},
{"data": {"values": [{}]}, "mark": {"type":"text","text":"auto","fontSize":8,"color":"#4aa3df","align":"left","baseline":"bottom"},
 "encoding": {"x": {"datum":243}, "y": {"datum":0}}},
{"data": {"values": [{}]}, "mark": {"type":"text","text":"|\u00a0\u00a0⚙","font":"DejaVu Sans","fontSize":8,"color":"#888","align":"left","baseline":"bottom"},
 "encoding": {"x": {"datum":249.25}, "y": {"datum":0}}}
]
}
]
}
]
}
